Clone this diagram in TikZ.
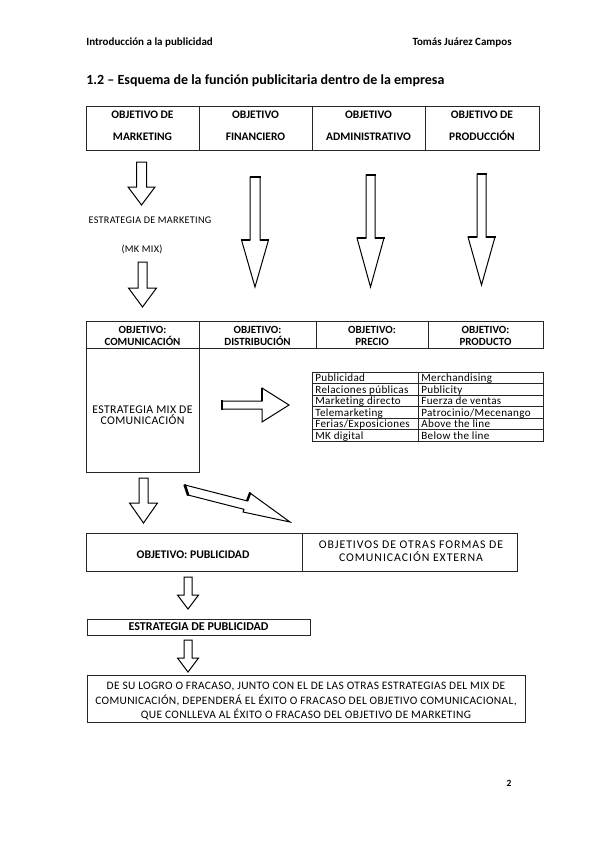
\documentclass[tikz,border=0pt]{standalone}
\usepackage{fontspec}
\setmainfont{Carlito}
\newfontfamily\spc[LetterSpace=3,Ligatures=NoCommon]{Carlito}
\newfontfamily\spcc[LetterSpace=8,Ligatures=NoCommon]{Carlito}
\newcommand\dnarrow[7]{%
  \draw[#7] (#1-#5,#2) -- (#1+#5,#2) -- (#1+#5,#3) -- (#1+#6,#3) -- (#1,#4) -- (#1-#6,#3) -- (#1-#5,#3) -- cycle;}
\newcommand\thickends[6]{%
  \draw[line width=2.6pt] (#1-#5-0.5,#2) -- (#1+#5+0.5,#2);
  \draw[line width=2.6pt] (#1-#6-0.5,#3) -- (#1-#5,#3) (#1+#5,#3) -- (#1+#6+0.5,#3);}
\begin{document}
\begin{tikzpicture}[x=1pt,y=-1pt,line width=0.7pt,
  bx/.style={draw=black!85,line width=0.8pt},
  hdr/.style={inner sep=0pt,font=\fontsize{11}{13}\selectfont\bfseries},
  hd/.style={inner sep=0pt,align=center,font=\fontsize{11.5}{22}\selectfont\bfseries},
  hd2/.style={inner sep=0pt,align=center,font=\fontsize{11}{11.5}\selectfont\bfseries},
  tx/.style={inner sep=0pt,align=center},
  cell/.style={inner sep=0pt,anchor=base west,font=\fontsize{11.1}{12}\spc},
  arr/.style={draw=black,line width=1pt,line join=miter,fill=white}]
\useasboundingbox (0,0) rectangle (599,848);
% header
\node[hdr,anchor=west] (hl) at (86,43) {Introducción a la publicidad};
\node[hdr,anchor=east] (hr) at (512,43) {Tomás Juárez Campos};
\node[inner sep=0pt,anchor=west,font=\fontsize{14}{16}\selectfont\bfseries] (title) at (86,81) {1.2 – Esquema de la función publicitaria dentro de la empresa};
% top table
\draw[bx] (86,106) rectangle (539,150);
\draw[bx] (199,106) -- (199,150) (312,106) -- (312,150) (425,106) -- (425,150);
\node[hd] (o1) at (142.5,126) {OBJETIVO DE\\MARKETING};
\node[hd] (o2) at (255.5,126) {OBJETIVO\\FINANCIERO};
\node[hd] (o3) at (368.5,126) {OBJETIVO\\ADMINISTRATIVO};
\node[hd] (o4) at (482,126) {OBJETIVO DE\\PRODUCCIÓN};
% left arrows and text
\dnarrow{141.5}{162}{187}{205}{5}{13.5}{arr}
\node[tx,font=\fontsize{10.2}{11}\spc] (em) at (150,220) {ESTRATEGIA DE MARKETING};
\node[tx,font=\fontsize{10.2}{11}\spc] (mk) at (142,249) {(MK MIX)};
\dnarrow{142.5}{262}{288}{307}{4.5}{14}{arr}
% long arrows
\dnarrow{255}{177}{240}{287}{5}{13.5}{arr}
\thickends{255}{177}{240}{287}{5}{13.5}
\dnarrow{370.5}{175}{238}{287}{4.5}{13.5}{arr}
\thickends{370.5}{175}{238}{287}{4.5}{13.5}
\dnarrow{481.5}{174}{237}{285}{4.5}{13.5}{arr}
\thickends{481.5}{174}{237}{285}{4.5}{13.5}
% second table
\draw[bx] (86,321) rectangle (543,348);
\draw[bx] (199,321) -- (199,348) (316,321) -- (316,348) (428,321) -- (428,348);
\node[hd2] (c1) at (142.5,336) {OBJETIVO:\\COMUNICACIÓN};
\node[hd2] (c2) at (257.5,336) {OBJETIVO:\\DISTRIBUCIÓN};
\node[hd2] (c3) at (372,336) {OBJETIVO:\\PRECIO};
\node[hd2] (c4) at (485.5,336) {OBJETIVO:\\PRODUCTO};
\draw[bx] (86,348) rectangle (199,472);
\node[tx,font=\fontsize{11.8}{11.5}\spc] (mix) at (142.5,415) {ESTRATEGIA MIX DE\\COMUNICACIÓN};
% right arrow
\draw[arr] (222,401) -- (262,401) -- (262,388) -- (289,405) -- (262,422) -- (262,409) -- (222,409) -- cycle;
\draw[line width=2.6pt] (222,400) -- (222,410);
\draw[line width=2.4pt] (262,387.5) -- (262,401);
% small table
\draw[bx] (312,372) rectangle (543,441);
\draw[bx] (418,372) -- (418,441);
\foreach \yy in {383.5,395,406.5,418,429.5} {\draw[bx] (312,\yy) -- (543,\yy);}
\node[cell] (t11) at (315,381.5) {Publicidad};
\node[cell] (t12) at (421,381.5) {Merchandising};
\node[cell] (t21) at (315,393) {Relaciones públicas};
\node[cell] (t22) at (421,393) {Publicity};
\node[cell] (t31) at (315,404.5) {Marketing directo};
\node[cell] (t32) at (421,404.5) {Fuerza de ventas};
\node[cell] (t41) at (315,416) {Telemarketing};
\node[cell] (t42) at (421,416) {Patrocinio/Mecenango};
\node[cell] (t51) at (315,427.5) {Ferias/Exposiciones};
\node[cell] (t52) at (421,427.5) {Above the line};
\node[cell] (t61) at (315,439) {MK digital};
\node[cell] (t62) at (421,439) {Below the line};
% arrows to publicidad
\dnarrow{143.5}{478}{503}{523}{4.5}{14}{arr}
\draw[arr] (185,485) -- (247.1,500.9) -- (250,493) -- (290,522) -- (243,512) -- (244,509.3) -- (188,495) -- cycle;
\draw[line width=2.6pt] (184.6,484.5) -- (188.2,495.5);
\draw[line width=2.4pt] (250.3,492.5) -- (247.1,501);
% publicidad box
\draw[bx] (86,533) rectangle (517,571);
\draw[bx] (302,533) -- (302,571);
\node[hd2,font=\fontsize{11.7}{12}\selectfont\bfseries] (pub) at (193,555) {OBJETIVO: PUBLICIDAD};
\node[tx,font=\fontsize{11.8}{13}\spcc] (otr) at (411,551) {OBJETIVOS DE OTRAS FORMAS DE\\COMUNICACIÓN EXTERNA};
\dnarrow{188}{577}{595}{609}{4}{10.5}{arr}
\draw[bx] (87,619) rectangle (310,635);
\node[hd2,font=\fontsize{12}{12}\selectfont\bfseries] (ep) at (198.5,627) {ESTRATEGIA DE PUBLICIDAD};
\dnarrow{188}{640}{658}{672}{4}{10.5}{arr}
\draw[bx] (87,675) rectangle (525,722);
\node[tx,font=\fontsize{11.4}{14.5}\spc] (fin) at (306,701.5) {DE SU LOGRO O FRACASO, JUNTO CON EL DE LAS OTRAS ESTRATEGIAS DEL MIX DE\\COMUNICACIÓN, DEPENDERÁ EL ÉXITO O FRACASO DEL OBJETIVO COMUNICACIONAL,\\QUE CONLLEVA AL ÉXITO O FRACASO DEL OBJETIVO DE MARKETING};
\node[inner sep=0pt,font=\fontsize{9.5}{11}\selectfont\bfseries] (pg) at (509,783) {2};
\end{tikzpicture}
\end{document}
